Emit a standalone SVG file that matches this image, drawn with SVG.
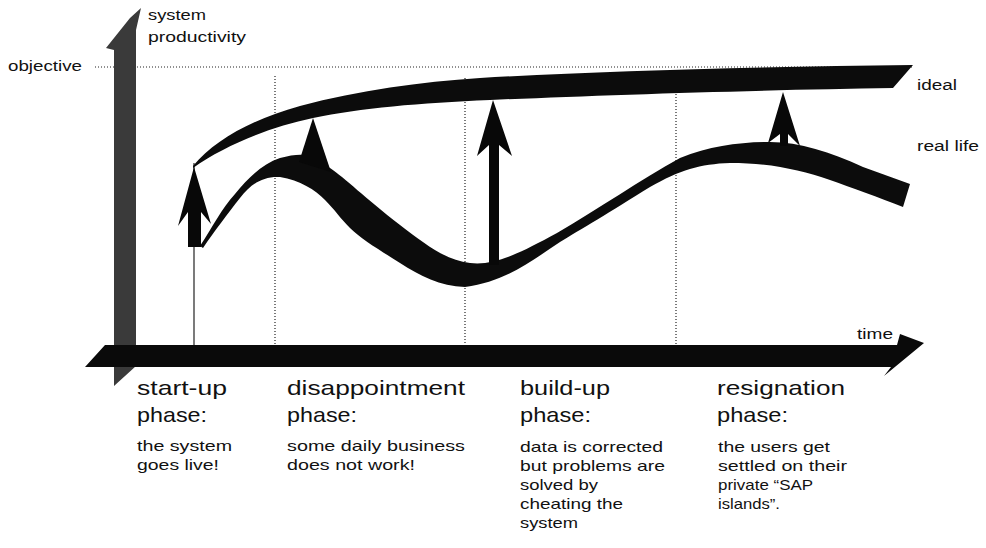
<svg xmlns="http://www.w3.org/2000/svg" width="986" height="548" viewBox="0 0 986 548">
  <style>
    text { font-family: "Liberation Sans", Arial, sans-serif; fill: #111; }
    .head { font-size: 21px; }
    .body { font-size: 15px; }
    .lbl { font-size: 15.5px; }
    .dot { stroke: #222; stroke-width: 1.2; stroke-dasharray: 1 2; fill: none; }
    .band { fill: #0c0c0c; }
    .arrow { fill: #080808; }
  </style>

  <rect width="986" height="548" fill="#fff"/>

  <!-- guide lines -->
  <g id="guides">
    <line class="dot" x1="95" y1="67" x2="912" y2="67"/>
    <line class="dot" x1="275" y1="76" x2="275" y2="346"/>
    <line class="dot" x1="465" y1="78" x2="465" y2="346"/>
    <line class="dot" x1="676" y1="70" x2="676" y2="346"/>
    <line x1="194" y1="163" x2="194" y2="346" stroke="#333" stroke-width="1.3"/>
  </g>

  <!-- axes -->
  <g id="y-axis">
    <polygon fill="#3a3a3a" points="114,386 114,50 106,48 130,18 141,8 136,30 136,366"/>
    <text class="lbl" x="148" y="20" textLength="58" lengthAdjust="spacingAndGlyphs">system</text>
    <text class="lbl" x="148" y="42" textLength="98" lengthAdjust="spacingAndGlyphs">productivity</text>
  </g>
  <g id="x-axis">
    <polygon fill="#0a0a0a" points="105,345 897,345 900,334 924,343 884,376 891,367 85,367"/>
    <text class="lbl" x="857" y="339" textLength="36" lengthAdjust="spacingAndGlyphs">time</text>
  </g>
  <g id="objective">
    <text class="lbl" x="8" y="71" textLength="74" lengthAdjust="spacingAndGlyphs">objective</text>
  </g>

  <!-- curves -->
  <g id="ideal">
    <path class="band" d="M193,166 C215,140 250,120 300,106 C360,90 420,82 480,78 C600,71 750,67 913,65 L893,88 C760,90 600,95 490,100 C420,103 360,108 313,118 C270,127 225,145 193,168 Z"/>
    <text class="lbl" x="917" y="90" textLength="40" lengthAdjust="spacingAndGlyphs">ideal</text>
  </g>
  <g id="real-life">
    <path class="band" d="M200,246 C212,228 222,208 235,194 C248,178 262,164 280,158 C290,155 300,154 305,155 L330,168 C345,178 365,198 400,225 C425,244 445,260 470,263 C495,266 520,253 557,233 C600,208 640,180 680,158 C710,146 740,142 770,142 C800,142 830,152 863,167 L910,184 L903,207 C880,198 850,187 830,180 C800,170 770,163 730,163 C700,164 680,170 650,187 C610,212 580,230 560,242 C530,262 505,282 465,287 C440,286 420,276 400,263 C380,250 362,240 350,228 C340,218 335,210 325,200 C315,190 300,180 280,177 C262,176 250,185 240,198 C228,213 214,232 203,248 Z"/>
    <text class="lbl" x="917" y="151" textLength="62" lengthAdjust="spacingAndGlyphs">real life</text>
  </g>

  <!-- gap arrows -->
  <g id="connectors">
    <polygon class="arrow" points="188,247 188,212 178,226 194,167 211,224 201,212 201,247"/>
    <polygon class="arrow" points="299,162 313,118 331,172"/>
    <polygon class="arrow" points="489,265 489,145 477,156 493,100 512,156 499,145 499,265"/>
    <polygon class="arrow" points="780,146 780,134 768,143 783,92 800,146 788,134 788,146"/>
  </g>

  <!-- phase descriptions -->
  <g id="phase-startup">
    <text class="head" x="137" y="395" textLength="90" lengthAdjust="spacingAndGlyphs">start-up</text>
    <text class="head" x="137" y="422" textLength="70" lengthAdjust="spacingAndGlyphs">phase:</text>
    <text class="body" x="137" y="451" textLength="95" lengthAdjust="spacingAndGlyphs">the system</text>
    <text class="body" x="137" y="470" textLength="82" lengthAdjust="spacingAndGlyphs">goes live!</text>
  </g>
  <g id="phase-disappointment">
    <text class="head" x="287" y="395" textLength="178" lengthAdjust="spacingAndGlyphs">disappointment</text>
    <text class="head" x="287" y="422" textLength="70" lengthAdjust="spacingAndGlyphs">phase:</text>
    <text class="body" x="287" y="451" textLength="178" lengthAdjust="spacingAndGlyphs">some daily business</text>
    <text class="body" x="287" y="470" textLength="128" lengthAdjust="spacingAndGlyphs">does not work!</text>
  </g>
  <g id="phase-buildup">
    <text class="head" x="520" y="395" textLength="90" lengthAdjust="spacingAndGlyphs">build-up</text>
    <text class="head" x="520" y="422" textLength="71" lengthAdjust="spacingAndGlyphs">phase:</text>
    <text class="body" x="520" y="452" textLength="143" lengthAdjust="spacingAndGlyphs">data is corrected</text>
    <text class="body" x="520" y="471" textLength="145" lengthAdjust="spacingAndGlyphs">but problems are</text>
    <text class="body" x="520" y="490" textLength="78" lengthAdjust="spacingAndGlyphs">solved by</text>
    <text class="body" x="520" y="509" textLength="103" lengthAdjust="spacingAndGlyphs">cheating the</text>
    <text class="body" x="520" y="528" textLength="58" lengthAdjust="spacingAndGlyphs">system</text>
  </g>
  <g id="phase-resignation">
    <text class="head" x="717" y="395" textLength="128" lengthAdjust="spacingAndGlyphs">resignation</text>
    <text class="head" x="717" y="422" textLength="71" lengthAdjust="spacingAndGlyphs">phase:</text>
    <text class="body" x="718" y="452" textLength="112" lengthAdjust="spacingAndGlyphs">the users get</text>
    <text class="body" x="718" y="471" textLength="129" lengthAdjust="spacingAndGlyphs">settled on their</text>
    <text class="body" x="718" y="490" textLength="95" lengthAdjust="spacingAndGlyphs">private “SAP</text>
    <text class="body" x="718" y="509" textLength="62" lengthAdjust="spacingAndGlyphs">islands”.</text>
  </g>
</svg>
